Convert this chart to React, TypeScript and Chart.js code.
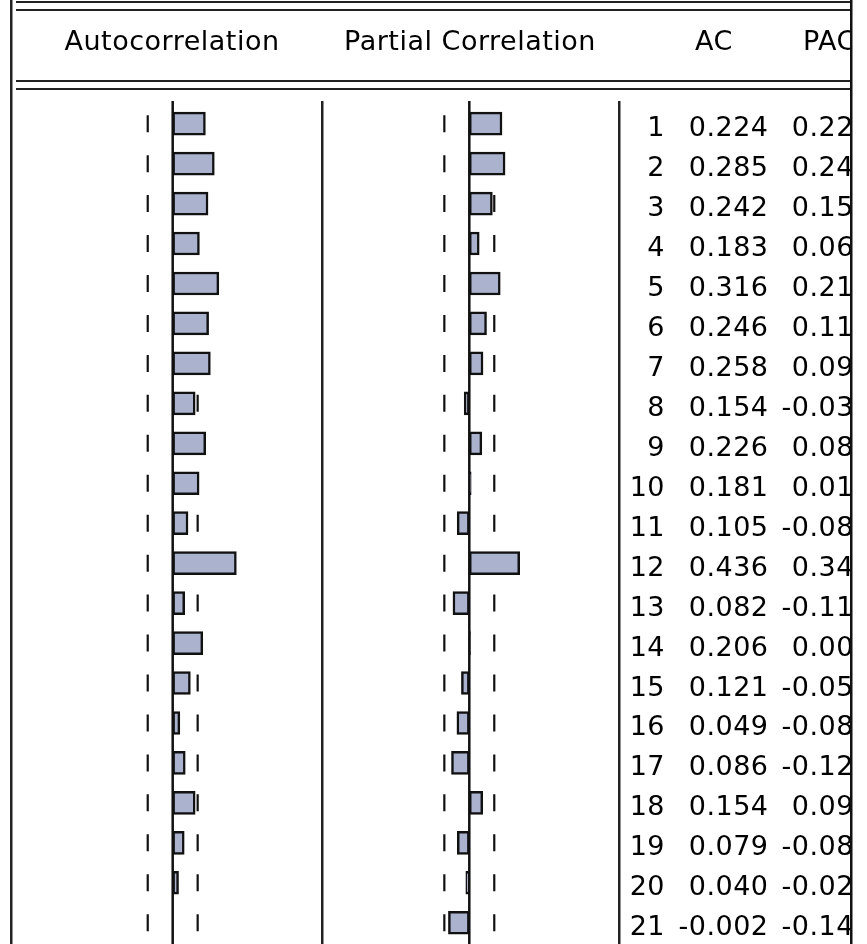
import React, { useEffect, useRef } from "react";
import { Chart, registerables } from "chart.js";

Chart.register(...registerables);

// ---- data ----
const lags = ["1","2","3","4","5","6","7","8","9","10","11","12","13","14","15","16","17","18","19","20","21"];
const acValues = [0.224, 0.285, 0.242, 0.183, 0.316, 0.246, 0.258, 0.154, 0.226, 0.181, 0.105, 0.436, 0.082, 0.206, 0.121, 0.049, 0.086, 0.154, 0.079, 0.040, -0.002];
const pacValues = [0.224, 0.245, 0.158, 0.068, 0.212, 0.118, 0.094, -0.035, 0.086, 0.013, -0.083, 0.345, -0.112, 0.008, -0.054, -0.085, -0.122, 0.092, -0.082, -0.024, -0.143];
const confBand = 0.171; // +/- 2/sqrt(T) dashed bounds
const headerLabels = ["Autocorrelation", "Partial Correlation", "AC", "PAC"];

// ---- layout / style ----
const W = 867;
const H = 944;
const PX_PER_UNIT = 146;
const AC_ZERO_PX = 172.7;
const PAC_ZERO_PX = 469.3;
const BAR_FILL = "#aab2ce";
const INK = "#111111";
const LINE = "#222222";
const FONT = '27px "DejaVu Sans", sans-serif';

const tablePlugin = {
  id: "correlogramTable",
  beforeDraw(chart: any) {
    const ctx = chart.ctx;
    ctx.save();
    ctx.fillStyle = "#ffffff";
    ctx.fillRect(0, 0, chart.width, chart.height);
    ctx.restore();
  },
  afterDraw(chart: any) {
    const ctx = chart.ctx;
    const xAC = chart.scales.xAC;
    const xPAC = chart.scales.xPAC;
    const y = chart.scales.y;
    const h = chart.height;
    ctx.save();
    ctx.fillStyle = LINE;
    // outer left border
    ctx.fillRect(10, 0, 2.5, h);
    // header double rules
    ctx.fillRect(16, 1, 834, 2);
    ctx.fillRect(16, 9, 834, 2);
    ctx.fillRect(16, 80, 834, 2);
    ctx.fillRect(16, 88, 834, 2);
    // zero lines
    ctx.fillStyle = INK;
    ctx.fillRect(xAC.getPixelForValue(0) - 1.25, 101, 2.5, h - 101);
    ctx.fillRect(xPAC.getPixelForValue(0) - 1.25, 101, 2.5, h - 101);
    // column separators
    ctx.fillStyle = LINE;
    ctx.fillRect(321, 101, 2.5, h - 101);
    ctx.fillRect(618, 101, 2.5, h - 101);

    // text, clipped at the window edge
    ctx.save();
    ctx.beginPath();
    ctx.rect(0, 0, 850, h);
    ctx.clip();
    ctx.fillStyle = "#000000";
    ctx.font = FONT;
    try { (ctx as any).letterSpacing = "0.5px"; } catch (e) { /* ignore */ }
    ctx.textBaseline = "alphabetic";
    ctx.textAlign = "center";
    ctx.fillText(headerLabels[0], 172, 50);
    ctx.fillText(headerLabels[1], 470, 50);
    ctx.fillText(headerLabels[2], 714, 50);
    ctx.textAlign = "left";
    ctx.fillText(headerLabels[3], 803, 50);

    ctx.textAlign = "right";
    lags.forEach((lag, i) => {
      const yc = y.getPixelForValue(i) + 12.5;
      ctx.fillText(lag, 665, yc);
      ctx.fillText(acValues[i].toFixed(3), 768.5, yc);
      ctx.fillText(pacValues[i].toFixed(3), 871.5, yc);
    });
    ctx.restore();

    // right window edge
    ctx.fillStyle = "#ffffff";
    ctx.fillRect(852, 0, chart.width - 852, h);
    ctx.fillStyle = INK;
    ctx.fillRect(850, 0, 2.5, h);
    ctx.restore();
  },
};

export default function App() {
  const ref = useRef<HTMLCanvasElement | null>(null);

  useEffect(() => {
    if (!ref.current) return;
    const bandPoints = (sign: number) => lags.map((l) => ({ x: sign * confBand, y: l }));
    const dashStyle = {
      type: "scatter" as const,
      yAxisID: "y",
      pointStyle: "line",
      pointRotation: 90,
      pointRadius: 8.5,
      pointHoverRadius: 8.5,
      pointBorderColor: INK,
      pointBorderWidth: 2.2,
      pointHoverBorderWidth: 2.2,
      showLine: false,
      order: 1,
    };
    const barStyle = {
      yAxisID: "y",
      backgroundColor: BAR_FILL,
      borderColor: INK,
      borderWidth: 2.5,
      borderSkipped: false,
      barThickness: 23,
      grouped: false,
      order: 0,
    };
    const chart = new Chart(ref.current, {
      type: "bar",
      data: {
        labels: lags,
        datasets: [
          { ...barStyle, label: "AC", data: acValues, xAxisID: "xAC" } as any,
          { ...barStyle, label: "PAC", data: pacValues, xAxisID: "xPAC" } as any,
          { ...dashStyle, label: "AC lower", xAxisID: "xAC", data: bandPoints(-1) } as any,
          { ...dashStyle, label: "AC upper", xAxisID: "xAC", data: bandPoints(1) } as any,
          { ...dashStyle, label: "PAC lower", xAxisID: "xPAC", data: bandPoints(-1) } as any,
          { ...dashStyle, label: "PAC upper", xAxisID: "xPAC", data: bandPoints(1) } as any,
        ],
      },
      options: {
        indexAxis: "y",
        responsive: false,
        animation: false,
        devicePixelRatio: 1,
        events: [],
        layout: { autoPadding: false, padding: { top: 103.7, bottom: 1.3, left: 0, right: 0 } },
        plugins: {
          legend: { display: false },
          tooltip: { enabled: false },
          title: { display: false },
        },
        scales: {
          y: { type: "category", offset: true, display: false },
          x: { type: "linear", display: false },
          xAC: {
            type: "linear",
            axis: "x",
            display: false,
            min: -AC_ZERO_PX / PX_PER_UNIT,
            max: (W - AC_ZERO_PX) / PX_PER_UNIT,
          },
          xPAC: {
            type: "linear",
            axis: "x",
            display: false,
            min: -PAC_ZERO_PX / PX_PER_UNIT,
            max: (W - PAC_ZERO_PX) / PX_PER_UNIT,
          },
        },
      } as any,
      plugins: [tablePlugin],
    });
    return () => chart.destroy();
  }, []);

  return (
    <div style={{ position: "absolute", left: 0, top: 0, width: W, height: H, background: "#fff" }}>
      <canvas ref={ref} width={W} height={H} style={{ display: "block", width: W, height: H }} />
    </div>
  );
}
